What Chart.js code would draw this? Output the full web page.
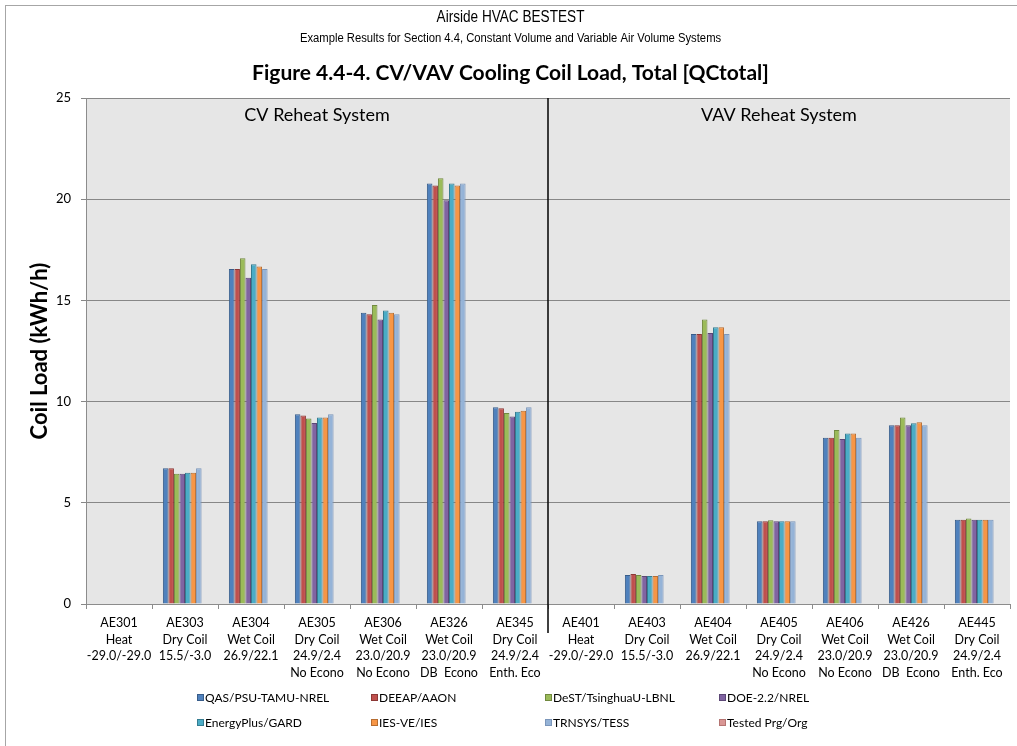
<!DOCTYPE html>
<html>
<head>
<meta charset="utf-8">
<title>Figure 4.4-4. CV/VAV Cooling Coil Load, Total</title>
<script src="https://cdn.jsdelivr.net/npm/chart.js@4"></script>
<style>
  html, body { margin: 0; padding: 0; background: #fff; }
  #wrap { position: relative; width: 1017px; height: 746px; overflow: hidden; }
  #frame { position: absolute; left: 5px; top: 5px; width: 1100px; height: 900px;
           border-left: 1px solid #a6a6a6; border-top: 1px solid #a6a6a6; }
  #coilChart { position: absolute; left: 0; top: 0; }
</style>
</head>
<body>
<div id="wrap">
  <div id="frame"></div>
  <canvas id="coilChart" width="1017" height="746"></canvas>
</div>
<script>
const cases = [
  ["AE301", "Heat", "-29.0/-29.0"],
  ["AE303", "Dry Coil", "15.5/-3.0"],
  ["AE304", "Wet Coil", "26.9/22.1"],
  ["AE305", "Dry Coil", "24.9/2.4", "No Econo"],
  ["AE306", "Wet Coil", "23.0/20.9", "No Econo"],
  ["AE326", "Wet Coil", "23.0/20.9", "DB  Econo"],
  ["AE345", "Dry Coil", "24.9/2.4", "Enth. Eco"],
  ["AE401", "Heat", "-29.0/-29.0"],
  ["AE403", "Dry Coil", "15.5/-3.0"],
  ["AE404", "Wet Coil", "26.9/22.1"],
  ["AE405", "Dry Coil", "24.9/2.4", "No Econo"],
  ["AE406", "Wet Coil", "23.0/20.9", "No Econo"],
  ["AE426", "Wet Coil", "23.0/20.9", "DB  Econo"],
  ["AE445", "Dry Coil", "24.9/2.4", "Enth. Eco"],
];

// total cooling coil load, kWh/h
const qas    = [0, 6.71, 16.55, 9.37, 14.39, 20.77, 9.72, 0, 1.43, 13.34, 4.09, 8.22, 8.83, 4.16];
const deeap  = [0, 6.71, 16.55, 9.31, 14.32, 20.68, 9.67, 0, 1.48, 13.34, 4.09, 8.22, 8.83, 4.16];
const dest   = [0, 6.43, 17.08, 9.16, 14.77, 21.03, 9.44, 0, 1.43, 14.06, 4.14, 8.60, 9.22, 4.22];
const doe    = [0, 6.43, 16.12, 8.94, 14.06, 19.95, 9.27, 0, 1.38, 13.39, 4.09, 8.15, 8.83, 4.16];
const eplus  = [0, 6.49, 16.78, 9.22, 14.50, 20.77, 9.50, 0, 1.38, 13.67, 4.09, 8.43, 8.93, 4.16];
const iesve  = [0, 6.49, 16.68, 9.22, 14.39, 20.68, 9.55, 0, 1.38, 13.67, 4.09, 8.43, 8.98, 4.16];
const trnsys = [0, 6.71, 16.55, 9.37, 14.32, 20.77, 9.72, 0, 1.43, 13.34, 4.09, 8.22, 8.83, 4.16];
const tested = [null, null, null, null, null, null, null, null, null, null, null, null, null, null];

const yTicks = [0, 5, 10, 15, 20, 25];
const sections = ["CV Reheat System", "VAV Reheat System"];

const FONT = "Lato, 'Open Sans', sans-serif";
const NARROW = "'Liberation Sans', Arial, sans-serif";

function series(label, data, fill, edge) {
  return {
    label,
    data,
    backgroundColor: fill,
    borderColor: edge,
    borderWidth: 1,
    borderSkipped: "bottom",
  };
}

const datasets = [
  series("QAS/PSU-TAMU-NREL", qas, "#4f81bd", "#385d8a"),
  series("DEEAP/AAON", deeap, "#c0504d", "#8c3836"),
  series("DeST/TsinghuaU-LBNL", dest, "#9bbb59", "#71893f"),
  series("DOE-2.2/NREL", doe, "#8064a2", "#5c4776"),
  series("EnergyPlus/GARD", eplus, "#4bacc6", "#357d91"),
  series("IES-VE/IES", iesve, "#f79646", "#b66d31"),
  series("TRNSYS/TESS", trnsys, "#95b3d7", "#7b96ba"),
  series("Tested Prg/Org", tested, "#d99694", "#b57472"),
];

// condensed text: squeeze a normal face horizontally
function narrowText(ctx, text, x, y, size, squeeze) {
  ctx.save();
  ctx.font = size + "px " + NARROW;
  ctx.translate(x, y);
  ctx.scale(squeeze, 1);
  ctx.fillText(text, 0, 0);
  ctx.restore();
}

// grey plot background, titles, divider, section labels and legend
const decorations = {
  id: "decorations",
  beforeDraw(chart) {
    const { ctx, chartArea: a } = chart;
    ctx.save();
    ctx.fillStyle = "#e6e6e6";
    ctx.fillRect(a.left, a.top, a.right - a.left, a.bottom - a.top);
    ctx.restore();
  },
  afterDatasetsDraw(chart) {
    const { ctx, chartArea: a, scales } = chart;
    const x = scales.x;
    const split = (x.getPixelForValue(6) + x.getPixelForValue(7)) / 2;

    ctx.save();
    ctx.strokeStyle = "#000";
    ctx.lineWidth = 1.5;
    ctx.beginPath();
    ctx.moveTo(split, a.top);
    ctx.lineTo(split, a.bottom + 29);
    ctx.stroke();

    ctx.fillStyle = "#000";
    ctx.textAlign = "center";
    ctx.textBaseline = "middle";
    ctx.font = "18px " + FONT;
    ctx.fillText(sections[0], (a.left + split) / 2, 115);
    ctx.fillText(sections[1], (split + a.right) / 2, 115);
    ctx.restore();
  },
  afterDraw(chart) {
    const { ctx } = chart;
    const cx = chart.width / 2 + 2;
    ctx.save();
    ctx.fillStyle = "#000";
    ctx.textAlign = "center";
    ctx.textBaseline = "middle";
    narrowText(ctx, "Airside HVAC BESTEST", cx, 18, 16, 0.85);
    narrowText(ctx, "Example Results for Section 4.4, Constant Volume and Variable Air Volume Systems", cx, 39, 12.5, 0.9);
    ctx.font = "bold 21px " + FONT;
    ctx.fillText("Figure 4.4-4. CV/VAV Cooling Coil Load, Total [QCtotal]", cx, 73);

    // legend: 4 columns x 2 rows
    ctx.textAlign = "left";
    ctx.font = "12px " + FONT;
    chart.data.datasets.forEach((ds, i) => {
      const bx = 197 + (i % 4) * 174;
      const by = i < 4 ? 698 : 723;
      ctx.fillStyle = ds.backgroundColor;
      ctx.fillRect(bx, by - 4, 7, 7);
      ctx.strokeStyle = ds.borderColor;
      ctx.lineWidth = 1;
      ctx.strokeRect(bx + 0.5, by - 3.5, 6, 6);
      ctx.fillStyle = "#000";
      ctx.fillText(ds.label, bx + 8, by);
    });
    ctx.restore();
  },
};

const ctx = document.getElementById("coilChart").getContext("2d");
new Chart(ctx, {
  type: "bar",
  data: {
    labels: cases,
    datasets,
  },
  options: {
    responsive: false,
    animation: false,
    devicePixelRatio: 1,
    layout: { padding: { top: 98, right: 7, left: 0, bottom: 0 } },
    datasets: {
      bar: { categoryPercentage: 0.67, barPercentage: 1.0 },
    },
    plugins: {
      legend: { display: false },
      title: { display: false },
      tooltip: { enabled: false },
    },
    scales: {
      x: {
        grid: {
          offset: true,
          drawOnChartArea: false,
          drawTicks: true,
          tickLength: 5,
          color: "#8c8c8c",
        },
        border: { color: "#8c8c8c" },
        ticks: {
          autoSkip: false,
          maxRotation: 0,
          minRotation: 0,
          padding: 6,
          color: "#000",
          font: { family: FONT, size: 12.5, lineHeight: 1.32 },
        },
        afterFit(scale) {
          scale.height = 142;
        },
      },
      y: {
        min: 0,
        max: 25,
        afterBuildTicks(scale) {
          scale.ticks = yTicks.map((v) => ({ value: v }));
        },
        grid: {
          color: "#878787",
          tickLength: 5,
        },
        border: { color: "#8c8c8c" },
        ticks: {
          padding: 10,
          color: "#000",
          font: { family: FONT, size: 13 },
        },
        title: {
          display: true,
          text: "Coil Load (kWh/h)",
          color: "#000",
          font: { family: FONT, size: 22, weight: "bold" },
          padding: { top: 27, bottom: 0 },
        },
        afterFit(scale) {
          scale.width = 86;
        },
      },
    },
  },
  plugins: [decorations],
});
</script>
</body>
</html>
